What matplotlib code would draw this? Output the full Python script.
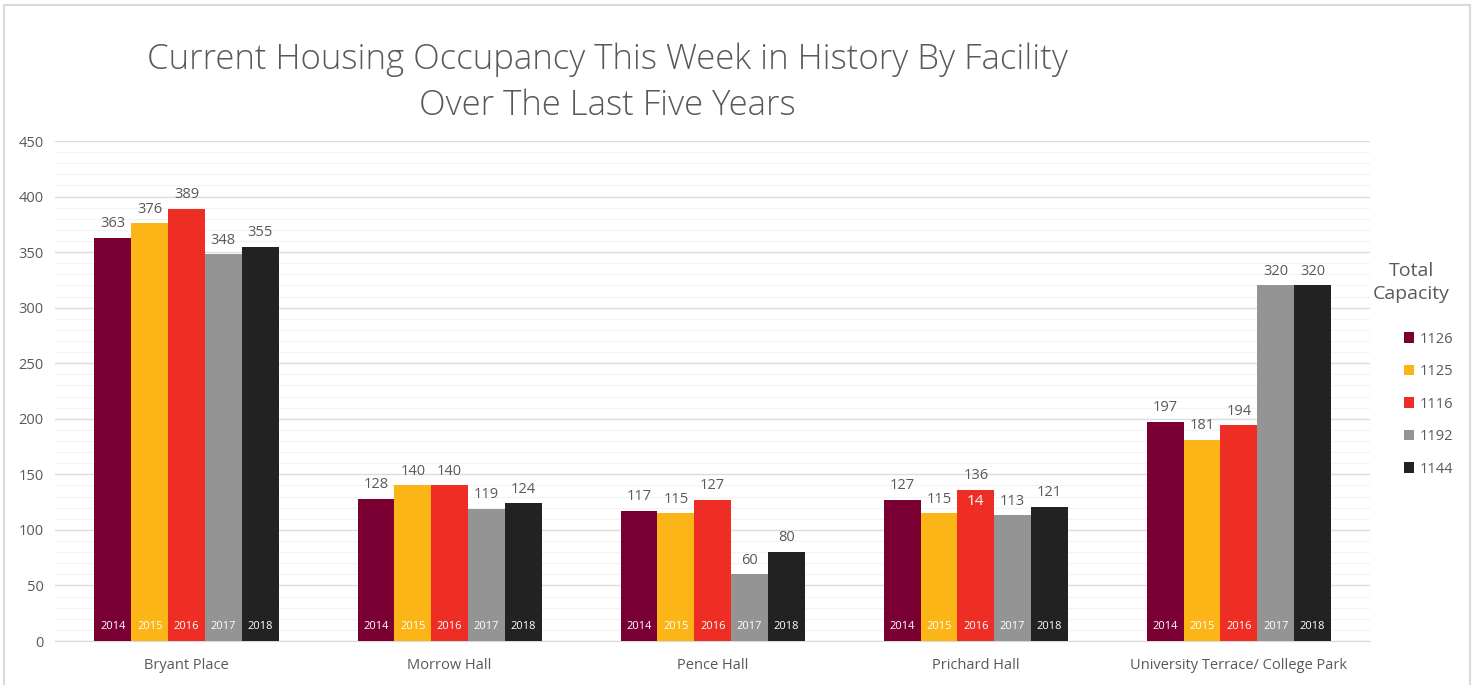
import matplotlib
matplotlib.use("Agg")
import matplotlib.pyplot as plt
import numpy as np
from matplotlib.patches import Rectangle, Patch

plt.rcParams['font.family'] = ['Open Sans', 'DejaVu Sans']

facilities = ["Bryant Place", "Morrow Hall", "Pence Hall", "Prichard Hall",
              "University Terrace/ College Park"]
years = ["2014", "2015", "2016", "2017", "2018"]
occupancy = {
    "2014": [363, 128, 117, 127, 197],
    "2015": [376, 140, 115, 115, 181],
    "2016": [389, 140, 127, 136, 194],
    "2017": [348, 119, 60, 113, 320],
    "2018": [355, 124, 80, 121, 320],
}
capacity = ["1126", "1125", "1116", "1192", "1144"]
colors = ["#7a0033", "#fbb516", "#ee2d24", "#949494", "#222222"]

txt = "#595959"

fig = plt.figure(figsize=(14.78, 6.85), dpi=100)
ax = fig.add_axes([0.0372, 0.0642, 0.8900, 0.7299])

x = np.arange(len(facilities))
w = 0.14
for k, yr in enumerate(years):
    pos = x + (k - 2) * w
    vals = occupancy[yr]
    ax.bar(pos, vals, width=w, color=colors[k], zorder=3)
    for p, v in zip(pos, vals):
        ax.text(p, v + 6, str(v), ha="center", va="bottom", fontsize=10.5, color=txt, zorder=4)
        ax.text(p, 8, yr, ha="center", va="bottom", fontsize=8, color="white", zorder=4)

# stray white label on the Prichard 2016 bar
ax.text(x[3], 136 - 4, "14", ha="center", va="top", fontsize=11, color="white", zorder=5)

ax.set_xlim(-0.5, len(facilities) - 0.5)
ax.set_ylim(0, 450)
ax.set_yticks(np.arange(0, 451, 50))
ax.set_yticks(np.arange(0, 451, 10), minor=True)
ax.grid(axis="y", which="major", color="#dddddd", linewidth=1, zorder=0)
ax.grid(axis="y", which="minor", color="#f3f3f3", linewidth=0.8, zorder=0)
ax.set_xticks(x)
ax.set_xticklabels(facilities, fontsize=10.5, color=txt)
ax.tick_params(axis="both", which="both", length=0, colors=txt)
ax.tick_params(axis="y", labelsize=10.5, pad=8)
ax.tick_params(axis="x", pad=12)
for s in ["top", "right", "left"]:
    ax.spines[s].set_visible(False)
ax.spines["bottom"].set_color("#d9d9d9")

fig.text(0.411, 0.879, "Current Housing Occupancy This Week in History By Facility\nOver The Last Five Years",
         ha="center", va="center", fontsize=25, color=txt, fontweight="light", linespacing=1.45)

fig.text(0.955, 0.588, "Total\nCapacity", ha="center", va="center", fontsize=14, color=txt, linespacing=1.35)
handles = [Patch(facecolor=c, edgecolor="none") for c in colors]
fig.legend(handles, capacity, loc="upper left", bbox_to_anchor=(0.941, 0.535), frameon=False,
           fontsize=10.5, labelcolor=txt, handlelength=0.7, handleheight=0.7, handletextpad=0.4,
           labelspacing=1.2)

fig.patches.append(Rectangle((0.003, -0.01), 0.9915, 1.0027, transform=fig.transFigure,
                             fill=False, edgecolor="#d9d9d9", linewidth=1.5))

fig.savefig("out.png", dpi=100, facecolor="white")
